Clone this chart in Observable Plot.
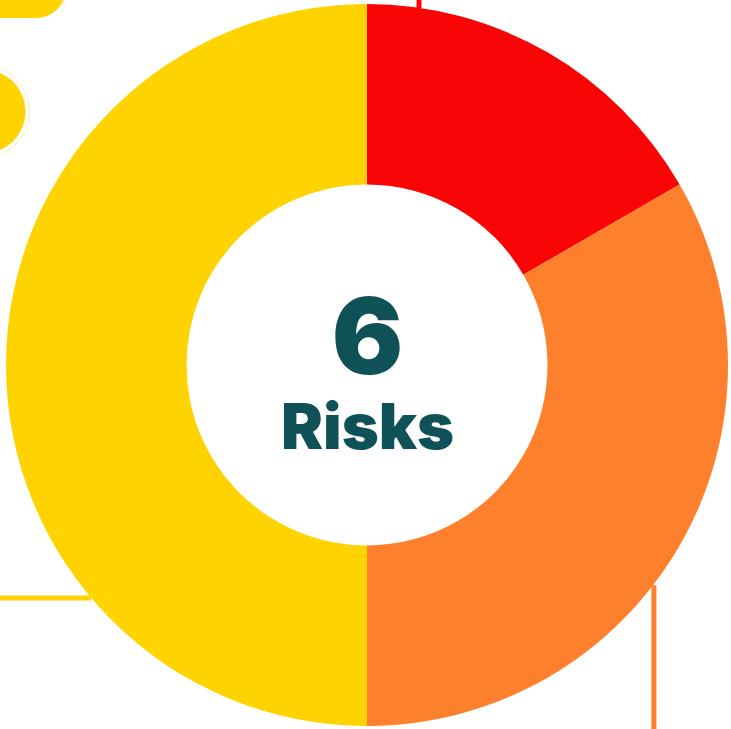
<!DOCTYPE html>
<html><head><meta charset="utf-8">
<script src="https://cdn.jsdelivr.net/npm/d3@7"></script>
<script src="https://cdn.jsdelivr.net/npm/@observablehq/plot@0.6"></script>
<style>html,body{margin:0;padding:0;background:#fff;overflow:hidden}#chart svg{display:block}</style>
</head><body><div id="chart"></div>
<script>
// ---- data ----
const categories = ["High", "Medium", "Low"];
const counts = [1, 2, 3];
const colors = ["#FA0505", "#FE7F2C", "#FFD300"];
const totalLabel = "6";
const unitLabel = "Risks";
// leader lines: angle (deg, clockwise from 12 o'clock) on the outer edge, and direction
const leaderCategories = ["High", "Medium", "Low"];
const leaderAngles = [8.2, 127.5, 229.9];
const leaderDirs = [[0, 1], [0, -1], [-1, 0]];

// ---- layout ----
const W = 731, H = 729, CX = 367, CY = 365, R = 361;
const toX = px => (px - CX) / R, toY = py => (CY - py) / R;

const slices = categories.map((c, i) => ({category: c, count: counts[i], color: colors[i]}));
const pieData = d3.pie().sort(null).value(d => d.count)(slices);

const leaders = leaderCategories.map((c, i) => {
  const a = leaderAngles[i] * Math.PI / 180;
  const x1 = Math.sin(a), y1 = Math.cos(a);
  return {category: c, color: colors[categories.indexOf(c)],
    x1, y1, x2: x1 + leaderDirs[i][0] * 0.6, y2: y1 + leaderDirs[i][1] * 0.6};
});

// off-canvas label fragments
const pills = [{x1: toX(-40), x2: toX(66), y1: toY(-45), y2: toY(18)}];
const bubbles = [{x: toX(-17), y: toY(111)}];

function donut(index, scales) {
  const x = scales.x, y = scales.y;
  const cx = x(0), cy = y(0), r = x(1) - x(0);
  const arc = d3.arc().innerRadius(r * 0.5).outerRadius(r);
  const g = d3.create("svg:g").attr("transform", `translate(${cx},${cy})`);
  g.selectAll("path").data(pieData).join("path")
    .attr("d", arc).attr("fill", d => d.data.color);
  return g.node();
}

const chart = Plot.plot({
  width: W, height: H, margin: 0,
  x: {domain: [toX(0), toX(W)], range: [0, W], axis: null},
  y: {domain: [toY(H), toY(0)], range: [H, 0], axis: null},
  style: {background: "#fff", overflow: "hidden"},
  marks: [
    Plot.link(leaders, {x1: "x1", y1: "y1", x2: "x2", y2: "y2", stroke: "color", strokeWidth: 5, strokeOpacity: 1}),
    Plot.rect(pills, {x1: d => d.x1 - 4 / R, x2: d => d.x2 + 4 / R, y1: d => d.y1 - 4 / R, y2: d => d.y2 + 4 / R, rx: 34, fill: "none", stroke: "#FFD300", strokeOpacity: 0.35, strokeWidth: 1}),
    Plot.rect(pills, {x1: "x1", x2: "x2", y1: "y1", y2: "y2", rx: 30, fill: "#FFD300"}),
    Plot.dot(bubbles, {x: "x", y: "y", r: 46, fill: "none", stroke: "#FFD300", strokeOpacity: 0.35, strokeWidth: 1}),
    Plot.dot(bubbles, {x: "x", y: "y", r: 42, fill: "#FFD300"}),
    donut,
    Plot.text([totalLabel], {x: () => 0, y: () => 0, text: d => d, dy: 8, lineAnchor: "bottom", textAnchor: "middle", fontSize: 106, fontWeight: 900, fontFamily: "Inter", fill: "#0E5257"}),
    Plot.text([unitLabel], {x: () => 0, y: () => 0, text: d => d, dy: 83, lineAnchor: "bottom", textAnchor: "middle", fontSize: 63, fontWeight: 900, fontFamily: "Inter", fill: "#0E5257"})
  ]
});
document.getElementById("chart").appendChild(chart);
</script>
</body></html>
